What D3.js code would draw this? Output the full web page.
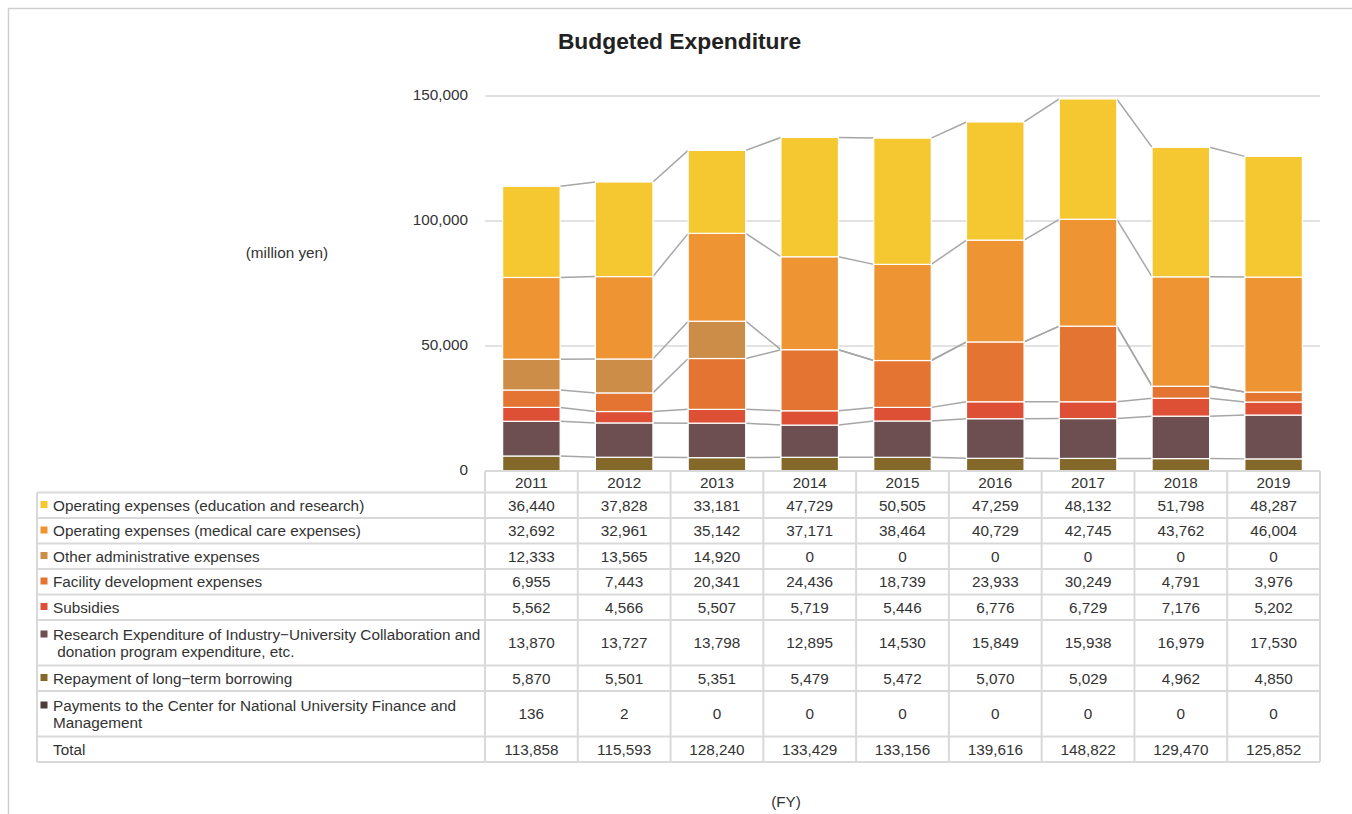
<!DOCTYPE html>
<html>
<head>
<meta charset="utf-8">
<script src="https://cdn.jsdelivr.net/npm/d3@7"></script>
<style>
  html, body { margin: 0; padding: 0; background: #fff; }
  svg { display: block; font-family: "Liberation Sans", Arial, sans-serif; }
</style>
</head>
<body>
<svg id="chart" width="1352" height="814"></svg>
<script>
// ---------- DATA ----------
const years = ["2011","2012","2013","2014","2015","2016","2017","2018","2019"];
const eduResearch   = [36440, 37828, 33181, 47729, 50505, 47259, 48132, 51798, 48287];
const medicalCare   = [32692, 32961, 35142, 37171, 38464, 40729, 42745, 43762, 46004];
const otherAdmin    = [12333, 13565, 14920, 0, 0, 0, 0, 0, 0];
const facilityDev   = [6955, 7443, 20341, 24436, 18739, 23933, 30249, 4791, 3976];
const subsidies     = [5562, 4566, 5507, 5719, 5446, 6776, 6729, 7176, 5202];
const researchColl  = [13870, 13727, 13798, 12895, 14530, 15849, 15938, 16979, 17530];
const repayment     = [5870, 5501, 5351, 5479, 5472, 5070, 5029, 4962, 4850];
const payments      = [136, 2, 0, 0, 0, 0, 0, 0, 0];
const totals        = [113858, 115593, 128240, 133429, 133156, 139616, 148822, 129470, 125852];
const yTicks        = [0, 50000, 100000, 150000];

// Series in table order (top to bottom); label lines as shown in the table
const seriesKeys = ["edu","med","other","facility","subsidies","research","repay","payments"];
const seriesLabels = [
  ["Operating expenses (education and research)"],
  ["Operating expenses (medical care expenses)"],
  ["Other administrative expenses"],
  ["Facility development expenses"],
  ["Subsidies"],
  ["Research Expenditure of Industry\u2212University Collaboration and", " donation program expenditure, etc."],
  ["Repayment of long\u2212term borrowing"],
  ["Payments to the Center for National University Finance and", "Management"]
];
const seriesValues = [eduResearch, medicalCare, otherAdmin, facilityDev, subsidies, researchColl, repayment, payments];
const seriesColors = ["#F5C731","#EF9433","#CB8D47","#E37431","#DD5036","#6D4F51","#836829","#4F3A3C"];

// ---------- LAYOUT ----------
const svg = d3.select("#chart");
const plotLeft = 485, plotRight = 1320, plotTop = 96, plotBottom = 471;
const tableLeft = 37;
const textColor = "#333333";
const borderColor = "#D9D9D9";
const fs = 15.3;

// frame
svg.append("line").attr("x1", 8).attr("x2", 1352).attr("y1", 8.5).attr("y2", 8.5)
  .attr("stroke", "#CFCFCF").attr("stroke-width", 1.5);
svg.append("line").attr("x1", 8.5).attr("x2", 8.5).attr("y1", 8).attr("y2", 814)
  .attr("stroke", "#CFCFCF").attr("stroke-width", 1.5);

// title
svg.append("text").attr("x", 679.5).attr("y", 49).attr("text-anchor", "middle")
  .attr("font-size", 22.8).attr("font-weight", "bold").attr("fill", "#222")
  .text("Budgeted Expenditure");

// scales
const x = d3.scaleBand().domain(years).range([plotLeft, plotRight]).padding(0);
const y = d3.scaleLinear().domain([0, 150000]).range([plotBottom, plotTop]);
const barFrac = 0.62;
const barW = x.bandwidth() * barFrac;
const barX = d => x(d) + (x.bandwidth() - barW) / 2;

// gridlines
svg.append("g").selectAll("line").data(yTicks.filter(t => t > 0)).join("line")
  .attr("x1", plotLeft).attr("x2", plotRight)
  .attr("y1", d => y(d)).attr("y2", d => y(d))
  .attr("stroke", borderColor).attr("stroke-width", 1.5);

// y axis labels
const yAxis = d3.axisLeft(y).tickValues(yTicks).tickFormat(d3.format(",")).tickSize(0).tickPadding(0);
const yg = svg.append("g").attr("transform", `translate(${468},0)`).call(yAxis);
yg.select(".domain").remove();
yg.selectAll("text").attr("font-size", fs).attr("fill", textColor)
  .attr("font-family", "'Liberation Sans', Arial, sans-serif").attr("dy", "0.2em");

svg.append("text").attr("x", 287).attr("y", 258).attr("text-anchor", "middle")
  .attr("font-size", fs).attr("fill", textColor).text("(million yen)");

// stack (bottom-up order)
const table = years.map((yr, i) => {
  const row = { year: yr };
  seriesKeys.forEach((k, s) => row[k] = seriesValues[s][i]);
  return row;
});
const stackKeys = seriesKeys.slice().reverse();
const stacked = d3.stack().keys(stackKeys)(table);
const colorOf = k => seriesColors[seriesKeys.indexOf(k)];

// series connector lines
const connG = svg.append("g");
stacked.forEach(layer => {
  for (let i = 0; i < layer.length - 1; i++) {
    connG.append("line")
      .attr("x1", barX(years[i]) + barW).attr("y1", y(layer[i][1]))
      .attr("x2", barX(years[i + 1])).attr("y2", y(layer[i + 1][1]))
      .attr("stroke", "#A6A6A6").attr("stroke-width", 1.5);
  }
});

// bars
const barG = svg.append("g");
stacked.forEach(layer => {
  barG.append("g").selectAll("rect").data(layer).join("rect")
    .attr("x", d => barX(d.data.year))
    .attr("width", barW)
    .attr("y", d => y(d[1]))
    .attr("height", d => Math.max(0, y(d[0]) - y(d[1])))
    .attr("fill", colorOf(layer.key))
    .attr("stroke", "#fff").attr("stroke-width", d => (d[1] - d[0]) > 0 ? 1.2 : 0);
});

// ---------- DATA TABLE ----------
const headerTop = plotBottom, rowsTop = 492.5;
const singleH = 25.5, doubleH = 45.5;
const rows = seriesLabels.map((lines, s) => ({ lines, values: seriesValues[s], color: seriesColors[s] }));
rows.push({ lines: ["Total"], values: totals, color: null });
let yy = rowsTop;
rows.forEach(r => { r.top = yy; r.h = r.lines.length > 1 ? doubleH : singleH; yy += r.h; });
const tableBottom = yy;

const tg = svg.append("g");
// horizontal lines
const hLines = [rowsTop].concat(rows.map(r => r.top + r.h));
tg.selectAll("line.h").data(hLines).join("line").attr("class", "h")
  .attr("x1", tableLeft).attr("x2", plotRight).attr("y1", d => d).attr("y2", d => d)
  .attr("stroke", borderColor).attr("stroke-width", 2);
// header top line (axis)
tg.append("line").attr("x1", plotLeft).attr("x2", plotRight).attr("y1", headerTop).attr("y2", headerTop)
  .attr("stroke", borderColor).attr("stroke-width", 2);
// vertical lines
const vCols = years.map(d => x(d)).concat([plotRight]);
tg.selectAll("line.v").data(vCols).join("line").attr("class", "v")
  .attr("x1", d => d).attr("x2", d => d).attr("y1", headerTop).attr("y2", tableBottom)
  .attr("stroke", borderColor).attr("stroke-width", 2);
tg.append("line").attr("x1", tableLeft).attr("x2", tableLeft).attr("y1", rowsTop).attr("y2", tableBottom)
  .attr("stroke", borderColor).attr("stroke-width", 2);

// header years
tg.selectAll("text.yr").data(years).join("text").attr("class", "yr")
  .attr("x", d => x(d) + x.bandwidth() / 2).attr("y", headerTop + 16.5)
  .attr("text-anchor", "middle").attr("font-size", fs).attr("fill", textColor).text(d => d);

const fmt = d3.format(",");
rows.forEach(r => {
  const g = tg.append("g");
  const firstBase = r.lines.length > 1 ? r.top + 20 : r.top + 18;
  if (r.color) {
    g.append("rect").attr("x", 40.5).attr("y", firstBase - 9.5).attr("width", 7).attr("height", 7)
      .attr("fill", r.color);
  }
  r.lines.forEach((ln, li) => {
    g.append("text").attr("x", 53).attr("y", firstBase + li * 17)
      .attr("font-size", fs).attr("fill", textColor).attr("xml:space", "preserve")
      .style("white-space", "pre").text(ln);
  });
  const cy = r.top + r.h / 2 + 5.5;
  g.selectAll("text.v").data(r.values).join("text").attr("class", "v")
    .attr("x", (d, i) => x(years[i]) + x.bandwidth() / 2).attr("y", cy)
    .attr("text-anchor", "middle").attr("font-size", fs).attr("fill", textColor)
    .text(d => fmt(d));
});

// FY label
svg.append("text").attr("x", 786).attr("y", 807).attr("text-anchor", "middle")
  .attr("font-size", fs).attr("fill", textColor).text("(FY)");
</script>
</body>
</html>
